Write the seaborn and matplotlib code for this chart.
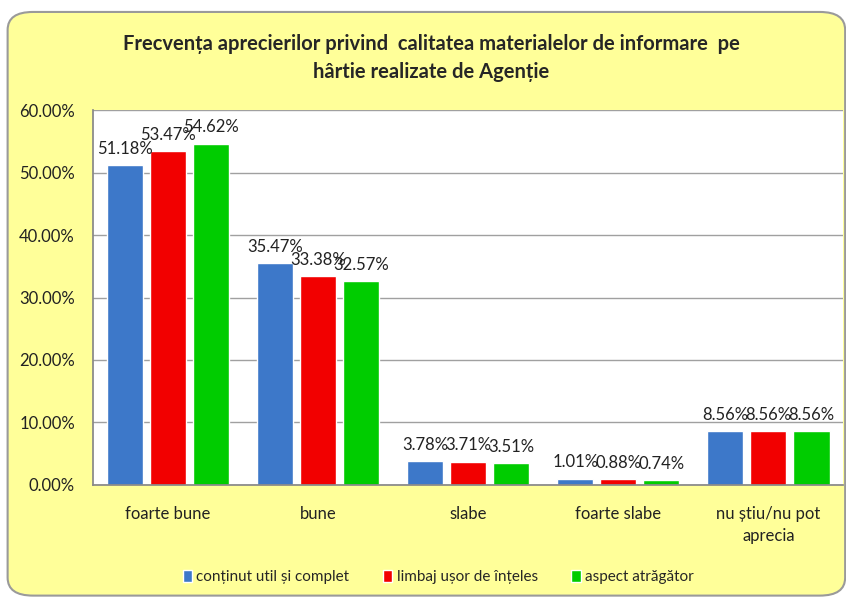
import pandas as pd
import matplotlib.pyplot as plt
import seaborn as sns
from matplotlib.patches import FancyBboxPatch
from matplotlib.ticker import FuncFormatter

categorii = ['foarte bune', 'bune', 'slabe', 'foarte slabe', 'nu știu/nu pot\naprecia']
serii = ['conținut util și complet', 'limbaj ușor de înțeles', 'aspect atrăgător']
continut = [51.18, 35.47, 3.78, 1.01, 8.56]
limbaj = [53.47, 33.38, 3.71, 0.88, 8.56]
aspect = [54.62, 32.57, 3.51, 0.74, 8.56]
culori = ['#3D78C9', '#F20000', '#00CC00']

df = pd.DataFrame({
    'categorie': categorii * 3,
    'serie': [serii[0]] * 5 + [serii[1]] * 5 + [serii[2]] * 5,
    'valoare': continut + limbaj + aspect,
})

sns.set_theme(style='white')
plt.rcParams['font.family'] = ['Lato', 'DejaVu Sans']

fig = plt.figure(figsize=(8.46, 5.98), dpi=100)
fig.patch.set_facecolor('white')
fundal = FancyBboxPatch((0.009, 0.004), 0.99, 0.976, boxstyle='round,pad=0,rounding_size=0.03',
                        transform=fig.transFigure, facecolor='#FFFF99',
                        edgecolor='#9A9A9A', linewidth=1.5, zorder=-5)
fig.patches.append(fundal)

ax = fig.add_axes([0.110, 0.189, 0.887, 0.627])
ax.set_facecolor('white')
sns.barplot(data=df, x='categorie', y='valoare', hue='serie', palette=culori,
            width=0.86, gap=0.16, saturation=1, ax=ax, legend=True)

for cont in ax.containers:
    ax.bar_label(cont, labels=[f'{v:.2f}%' for v in cont.datavalues], padding=6,
                 fontsize=12, color='#222222')

ax.set_ylim(0, 60)
ax.set_yticks(range(0, 61, 10))
ax.yaxis.set_major_formatter(FuncFormatter(lambda v, p: f'{v:.2f}%'))
ax.grid(axis='y', color='#A0A0A0', linewidth=1)
ax.set_axisbelow(True)
ax.set_xlim(-0.5, 4.5)
for s in ['top', 'right']:
    ax.spines[s].set_visible(False)
ax.spines['left'].set_color('#888888')
ax.spines['bottom'].set_color('#888888')
ax.tick_params(axis='y', labelsize=12, pad=7, colors='#222222')
ax.tick_params(axis='x', labelsize=12, pad=9, colors='#222222')
for t in ax.get_xticklabels():
    t.set_linespacing(1.5)
ax.set_xlabel('')
ax.set_ylabel('')

leg = ax.legend(loc='center', bbox_to_anchor=(0.518, 0.035), bbox_transform=fig.transFigure,
                ncol=3, frameon=False, handlelength=0.6, handleheight=0.8, handletextpad=0.3,
                columnspacing=2.2, prop={'size': 11})

fig.text(0.51, 0.903, 'Frecvența aprecierilor privind  calitatea materialelor de informare  pe\nhârtie realizate de Agenție',
         ha='center', va='center', fontsize=14.5, fontweight='bold', linespacing=1.55)

fig.savefig('out.png', dpi=100)
